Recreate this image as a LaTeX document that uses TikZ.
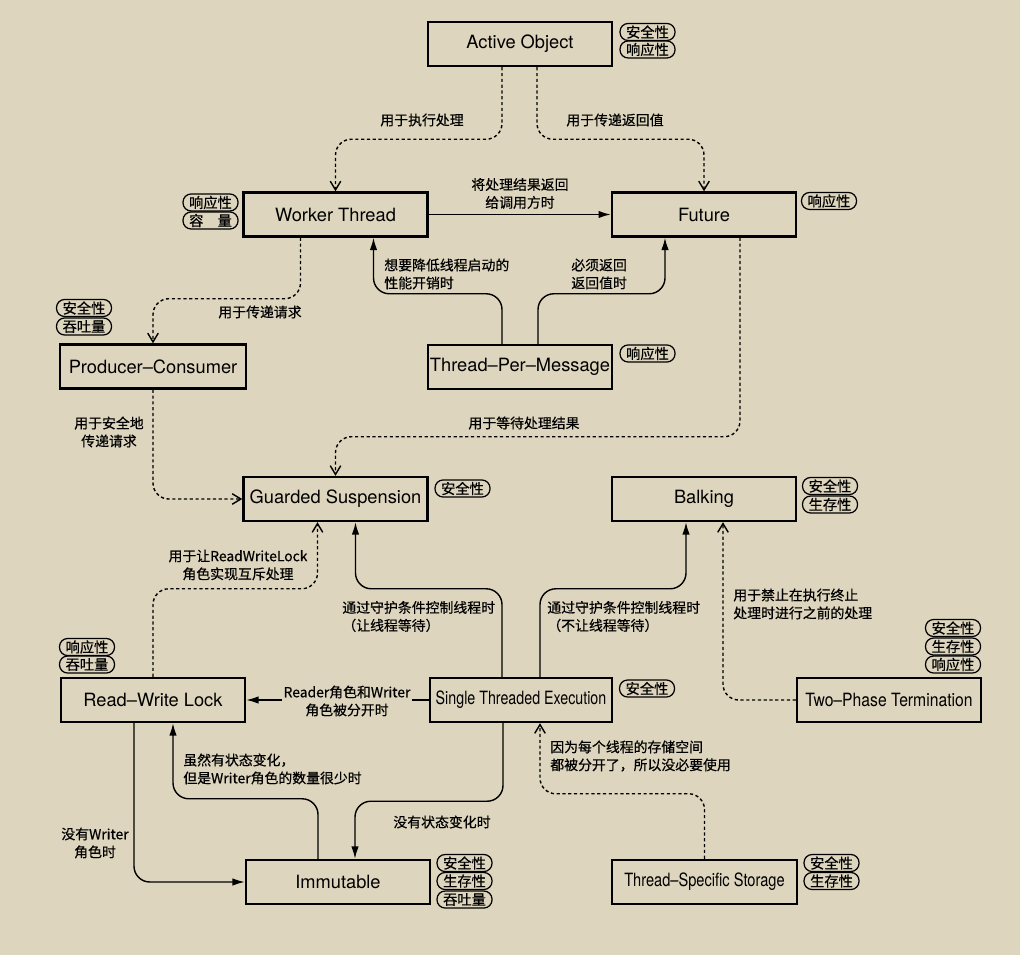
\documentclass[tikz,border=0pt]{standalone}
\usepackage{fontspec}
\usepackage{graphicx}
\setmainfont{TeX Gyre Heros}
\newfontfamily\cjk[FakeBold=0.5]{Noto Sans CJK SC}
\usetikzlibrary{arrows.meta,calc}
\definecolor{bg}{HTML}{DDD5BD}
\begin{document}
\begin{tikzpicture}[x=0.02cm,y=-0.02cm,
  box/.style={draw,line width=1.4pt,minimum width=3.68cm,minimum height=0.88cm,inner sep=0pt,font=\fontsize{10.4}{12}\selectfont},
  tag/.style={draw,line width=0.7pt,rounded corners=4.6pt,minimum width=1.1cm,minimum height=0.34cm,inner sep=0pt,font=\cjk\fontsize{8.1}{9}\selectfont},
  lbl/.style={inner sep=0pt,font=\cjk\fontsize{7.9}{10.2}\selectfont},
  conn/.style={line width=0.8pt,rounded corners=9pt},
  solidarr/.style={conn,-{Latex[length=7pt,width=4.2pt]}},
  dasharr/.style={conn,dash pattern=on 1.8pt off 1.5pt,-{Straight Barb[length=5pt,width=6pt]}},
]
\fill[bg] (0,0) rectangle (1020,955);
\useasboundingbox (0,0) rectangle (1020,955);

% boxes
\node[box] (ao) at (520,44) {Active Object};
\node[box] (wt) at (335.5,214.5) {Worker Thread};
\node[box] (fu) at (704,214.5) {Future};
\node[box,minimum width=3.72cm] (pc) at (153,366.5) {Producer--Consumer};
\node[box] (tpm) at (520,367) {Thread--Per--Message};
\node[box] (gs) at (335.5,499) {Guarded Suspension};
\node[box] (bk) at (704,499) {Balking};
\node[box] (rwl) at (153,700) {Read--Write Lock};
\node[box,minimum width=3.64cm] (ste) at (521,700) {\scalebox{0.78}[1]{Single Threaded Execution}};
\node[box] (tpt) at (889,700) {\scalebox{0.86}[1]{Two--Phase Termination}};
\node[box] (im) at (338,882) {Immutable};
\node[box,minimum width=3.7cm] (tss) at (704.5,882) {\scalebox{0.8}[1]{Thread--Specific Storage}};

% tags
\node[tag] (ao1) at (647.5,32) {安全性};
\node[tag] (ao2) at (647.5,49.5) {响应性};
\node[tag] (wt1) at (210.5,202.5) {响应性};
\node[tag] (wt2) at (210.5,220.5) {容　量};
\node[tag] (fu1) at (829,201) {响应性};
\node[tag] (pc1) at (84,308) {安全性};
\node[tag] (pc2) at (84,326.5) {吞吐量};
\node[tag] (tpm1) at (647.5,353.5) {响应性};
\node[tag] (gs1) at (462.5,488.5) {安全性};
\node[tag] (bk1) at (830,486) {安全性};
\node[tag] (bk2) at (830,504.5) {生存性};
\node[tag] (rwl1) at (87,647) {响应性};
\node[tag] (rwl2) at (87,664.5) {吞吐量};
\node[tag] (ste1) at (647,688.5) {安全性};
\node[tag] (tpt1) at (953,628) {安全性};
\node[tag] (tpt2) at (953,646.5) {生存性};
\node[tag] (tpt3) at (953,664.5) {响应性};
\node[tag] (im1) at (464.5,863) {安全性};
\node[tag] (im2) at (464.5,881) {生存性};
\node[tag] (im3) at (464.5,899.5) {吞吐量};
\node[tag] (tss1) at (831.5,863) {安全性};
\node[tag] (tss2) at (831.5,881) {生存性};

% connectors
\draw[dasharr] ($(ao.south)+(-18,0)$) -- ($(ao.south)+(-18,72)$) -| (wt.north);
\draw[dasharr] ($(ao.south)+(17,0)$) -- ($(ao.south)+(17,72)$) -| (fu.north);
\draw[solidarr] (wt.east) -- (fu.west);
\draw[solidarr] ($(tpm.north)+(-18,0)$) -- ($(tpm.north)+(-18,-50)$) -| ($(wt.south)+(38,0)$);
\draw[solidarr] ($(tpm.north)+(18,0)$) -- ($(tpm.north)+(18,-50)$) -| ($(fu.south)+(-39,0)$);
\draw[dasharr] ($(wt.south)+(-35,0)$) -- ($(wt.south)+(-35,61)$) -| (pc.north);
\draw[dasharr] (pc.south) |- (gs.west);
\draw[dasharr] ($(fu.south)+(36,0)$) -- ($(fu.south)+(36,199)$) -| (gs.north);
\draw[dasharr] (rwl.north) -- ($(rwl.north)+(0,-88)$) -| ($(gs.south)+(-18,0)$);
\draw[solidarr] ($(ste.north)+(-19,0)$) -- ($(ste.north)+(-19,-88)$) -| ($(gs.south)+(20,0)$);
\draw[solidarr] ($(ste.north)+(19,0)$) -- ($(ste.north)+(19,-88)$) -| ($(bk.south)+(-18,0)$);
\draw[dasharr] (tpt.west) -| ($(bk.south)+(19,0)$);
\draw[solidarr] (ste.west) -- (rwl.east);
\draw[solidarr] ($(ste.south)+(-18,0)$) -- ($(ste.south)+(-18,78)$) -| ($(im.north)+(17,0)$);
\draw[solidarr] ($(im.north)+(-20,0)$) -- ($(im.north)+(-20,-60)$) -| ($(rwl.south)+(20,0)$);
\draw[solidarr] ($(rwl.south)+(-19,0)$) |- (im.west);
\draw[dasharr] (tss.north) -- ($(tss.north)+(0,-65)$) -| ($(ste.south)+(19,0)$);

% labels
\node[lbl] (l1) at (422,120) {用于执行处理};
\node[lbl] (l2) at (615,120) {用于传递返回值};
\node[lbl,align=center] (l3) at (520,193.5) {将处理结果返回\\给调用方时};
\node[lbl,align=left,anchor=west] (l4) at (384,274) {想要降低线程启动的\\性能开销时};
\node[lbl,align=left,anchor=west] (l5) at (571,274) {必须返回\\返回值时};
\node[lbl] (l6) at (260,312) {用于传递请求};
\node[lbl,align=center] (l7) at (109,432) {用于安全地\\传递请求};
\node[lbl] (l8) at (524,423) {用于等待处理结果};
\node[lbl,align=center] (l9) at (238,565) {用于让ReadWriteLock\\角色实现互斥处理};
\node[lbl,align=left,anchor=west] (l10) at (342,616.5) {通过守护条件控制线程时\\（让线程等待）};
\node[lbl,align=left,anchor=west] (l11) at (547,616.5) {通过守护条件控制线程时\\（不让线程等待）};
\node[lbl,align=left,anchor=west] (l12) at (733,604) {用于禁止在执行终止\\处理时进行之前的处理};
\node[lbl,align=center,fill=bg,inner sep=1pt] (l13) at (347,701) {Reader角色和Writer\\角色被分开时};
\node[lbl,align=left,anchor=west] (l14) at (550,756) {因为每个线程的存储空间\\都被分开了，所以没必要使用};
\node[lbl,align=left,anchor=west] (l15) at (183,769) {虽然有状态变化，\\但是Writer角色的数量很少时};
\node[lbl] (l16) at (442,822) {没有状态变化时};
\node[lbl,align=center] (l17) at (95,843) {没有Writer\\角色时};
\end{tikzpicture}
\end{document}
